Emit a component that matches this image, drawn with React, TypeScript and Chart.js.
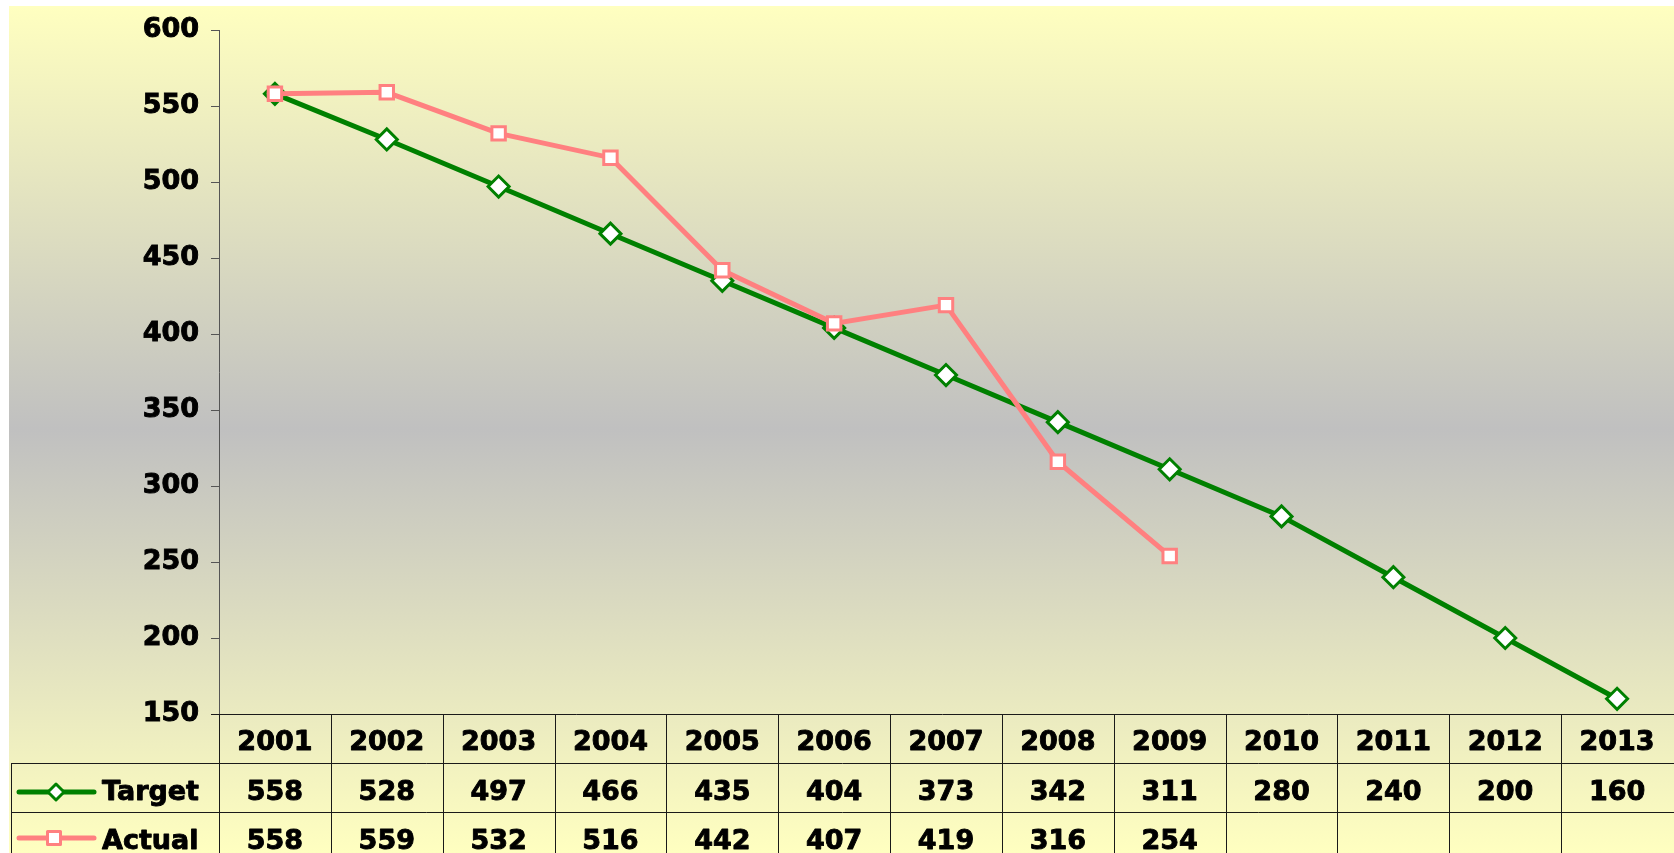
import React, { useEffect, useRef } from 'react';
import { Chart, registerables } from 'chart.js';

Chart.register(...registerables);

const years = ['2001', '2002', '2003', '2004', '2005', '2006', '2007', '2008', '2009', '2010', '2011', '2012', '2013'];
const targetValues = [558, 528, 497, 466, 435, 404, 373, 342, 311, 280, 240, 200, 160];
const actualValues: (number | null)[] = [558, 559, 532, 516, 442, 407, 419, 316, 254, null, null, null, null];
const seriesNames = ['Target', 'Actual'];
const yMin = 150;
const yMax = 600;
const yStep = 50;

const W = 1674;
const H = 853;
const FONT = 'bold 27px "DejaVu Sans", Verdana, sans-serif';
const GREEN = '#008000';
const PINK = '#FF8080';

function drawDiamond(ctx: CanvasRenderingContext2D, x: number, y: number, r: number) {
  ctx.beginPath();
  ctx.moveTo(x - r, y);
  ctx.lineTo(x, y - r);
  ctx.lineTo(x + r, y);
  ctx.lineTo(x, y + r);
  ctx.closePath();
  ctx.fillStyle = '#fff';
  ctx.fill();
  ctx.strokeStyle = GREEN;
  ctx.lineWidth = 3;
  ctx.stroke();
}

function drawSquare(ctx: CanvasRenderingContext2D, x: number, y: number, s: number) {
  ctx.beginPath();
  ctx.rect(x - s, y - s, 2 * s, 2 * s);
  ctx.fillStyle = '#fff';
  ctx.fill();
  ctx.strokeStyle = PINK;
  ctx.lineWidth = 3;
  ctx.stroke();
}

function boldText(ctx: CanvasRenderingContext2D, t: string, x: number, y: number) {
  ctx.fillText(t, x, y);
  ctx.strokeText(t, x, y);
}

const bgPlugin = {
  id: 'bgPlugin',
  beforeDraw(chart: any) {
    const ctx = chart.ctx as CanvasRenderingContext2D;
    ctx.save();
    ctx.fillStyle = '#ffffff';
    ctx.fillRect(0, 0, W, H);
    const g = ctx.createLinearGradient(0, 6, 0, H);
    g.addColorStop(0, '#FFFFC0');
    g.addColorStop(0.5, '#C0C0C0');
    g.addColorStop(1, '#FFFFC0');
    ctx.fillStyle = g;
    ctx.fillRect(9, 6, W - 9, H - 6);
    ctx.restore();
  },
};

const tablePlugin = {
  id: 'tablePlugin',
  afterDraw(chart: any) {
    const ctx = chart.ctx as CanvasRenderingContext2D;
    const area = chart.chartArea;
    const left = Math.round(area.left);
    const right = area.right;
    const top = Math.round(area.bottom);
    const rowH = 49;
    const n = years.length;
    const colW = (right - left) / n;
    const tableLeft = 11;

    ctx.save();
    ctx.strokeStyle = '#1a1a1a';
    ctx.lineWidth = 1;
    const hl = (x1: number, x2: number, y: number) => {
      ctx.beginPath();
      ctx.moveTo(x1, Math.round(y) + 0.5);
      ctx.lineTo(x2, Math.round(y) + 0.5);
      ctx.stroke();
    };
    const vl = (x: number, y1: number, y2: number) => {
      ctx.beginPath();
      ctx.moveTo(Math.round(x) + 0.5, y1);
      ctx.lineTo(Math.round(x) + 0.5, y2);
      ctx.stroke();
    };
    hl(left - 8, W, top);
    hl(tableLeft, W, top + rowH);
    hl(tableLeft, W, top + 2 * rowH);
    for (let i = 0; i < n; i++) {
      vl(left + i * colW, top, H);
    }
    vl(tableLeft, top + rowH, H);

    ctx.fillStyle = '#000';
    ctx.strokeStyle = '#000';
    ctx.lineWidth = 0.9;
    ctx.lineJoin = 'round';
    ctx.font = FONT;
    ctx.textAlign = 'center';
    ctx.textBaseline = 'alphabetic';
    for (let i = 0; i < n; i++) {
      const cx = chart.scales.x.getPixelForValue(i);
      boldText(ctx, years[i], cx, top + 36);
      boldText(ctx, String(targetValues[i]), cx, top + rowH + 37);
      const a = actualValues[i];
      if (a !== null && a !== undefined) {
        boldText(ctx, String(a), cx, top + 2 * rowH + 37);
      }
    }

    // legend keys
    ctx.textAlign = 'left';
    boldText(ctx, seriesNames[0], 102, top + rowH + 37);
    boldText(ctx, seriesNames[1], 102, top + 2 * rowH + 37);

    const ky1 = top + rowH + 29;
    const ky2 = top + 2 * rowH + 26;
    ctx.lineCap = 'round';
    ctx.lineWidth = 5;
    ctx.strokeStyle = GREEN;
    ctx.beginPath();
    ctx.moveTo(19, ky1);
    ctx.lineTo(94, ky1);
    ctx.stroke();
    drawDiamond(ctx, 56, ky1, 8);
    ctx.lineWidth = 5;
    ctx.strokeStyle = PINK;
    ctx.beginPath();
    ctx.moveTo(19, ky2);
    ctx.lineTo(94, ky2);
    ctx.stroke();
    drawSquare(ctx, 54, ky2, 6.5);
    ctx.restore();
  },
};

export default function App() {
  const ref = useRef<HTMLCanvasElement | null>(null);
  useEffect(() => {
    document.body.style.margin = '0';
    const canvas = ref.current;
    if (!canvas) return;
    const chart = new Chart(canvas, {
      type: 'line',
      data: {
        labels: years,
        datasets: [
          {
            label: seriesNames[0],
            data: targetValues,
            borderColor: GREEN,
            borderWidth: 5,
            pointStyle: 'rectRot',
            pointRadius: 10.5,
            pointBorderWidth: 3,
            pointBackgroundColor: '#ffffff',
            pointBorderColor: GREEN,
            tension: 0,
            clip: false,
            order: 2,
          },
          {
            label: seriesNames[1],
            data: actualValues,
            borderColor: PINK,
            borderWidth: 5,
            pointStyle: 'rect',
            pointRadius: 9.5,
            pointBorderWidth: 3,
            pointBackgroundColor: '#ffffff',
            pointBorderColor: PINK,
            tension: 0,
            spanGaps: false,
            clip: false,
            order: 1,
          },
        ],
      },
      options: {
        responsive: false,
        animation: false,
        devicePixelRatio: 1,
        layout: { autoPadding: false, padding: { left: 0, top: 30, right: 1, bottom: 139 } },
        plugins: {
          legend: { display: false },
          tooltip: { enabled: false },
        },
        scales: {
          x: {
            type: 'category',
            offset: true,
            display: false,
            grid: { display: false },
          },
          y: {
            min: yMin,
            max: yMax,
            afterFit: (s: any) => {
              s.width = 219;
            },
            ticks: {
              stepSize: yStep,
              color: '#000',
              textStrokeColor: '#000',
              textStrokeWidth: 0.9,
              font: { family: '"DejaVu Sans", Verdana, sans-serif', size: 27, weight: 'bold' },
              padding: 12,
            },
            grid: {
              drawOnChartArea: false,
              drawTicks: true,
              tickLength: 8,
              color: '#555',
            },
            border: { display: true, color: '#555', width: 1 },
          },
        },
      },
      plugins: [bgPlugin, tablePlugin],
    } as any);
    return () => chart.destroy();
  }, []);
  return <canvas ref={ref} width={W} height={H} style={{ display: 'block' }} />;
}
